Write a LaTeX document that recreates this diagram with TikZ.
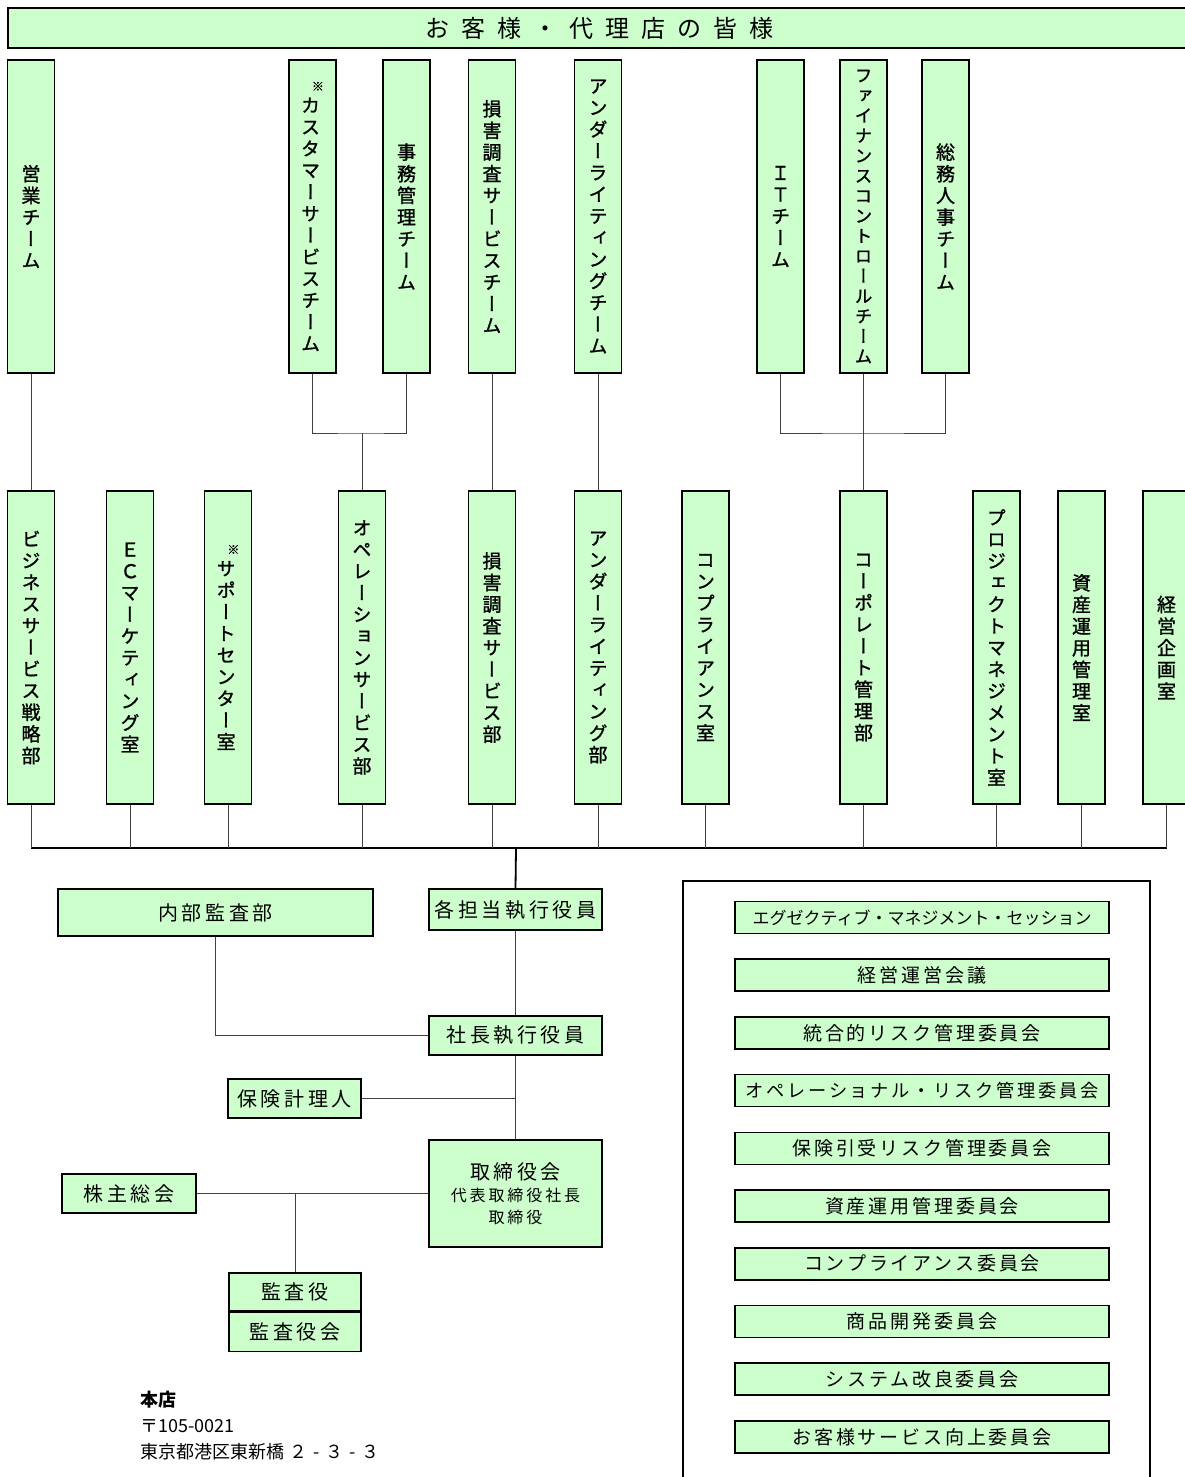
\documentclass[tikz,border=0pt]{standalone}
\usepackage{fontspec}
\setmainfont{Noto Sans CJK JP}
\newfontfamily\tatefont[RawFeature=+vert,FakeBold=1.2]{Noto Sans CJK JP}
\newfontfamily\yokofont[LetterSpace=18]{Noto Sans CJK JP}
\newfontfamily\iinfont[LetterSpace=15]{Noto Sans CJK JP}
\usepackage{tikz}
\usetikzlibrary{positioning,calc}
\definecolor{boxgreen}{HTML}{CCFFCC}

% vertical (tategaki) stack, one character per line
\makeatletter
\newcommand\tate[2][]{\vbox{\tatefont\baselineskip=1.14em\lineskiplimit=-\maxdimen
  \ifx\relax#1\relax\else\hbox to 1.2em{\hfill\fontsize{12}{12}\selectfont #1}\fi
  \tate@#2\@nil}}
\def\tate@#1{\ifx#1\@nil\else\hbox to 1em{\hss#1\hss}\expandafter\tate@\fi}
\newcommand\aki[1]{\aki@#1\@nil}
\def\aki@#1{\ifx#1\@nil\else\hbox{#1}\hskip 12pt\expandafter\aki@\fi}
\makeatother

\tikzset{
  tatebox/.style={draw=black,line width=1.6pt,fill=boxgreen,inner sep=0pt,
    minimum width=47pt,minimum height=313pt,font=\fontsize{19}{22}\selectfont},
  yokobox/.style={draw=black,line width=1.6pt,fill=boxgreen,inner sep=0pt,
    align=center,font=\yokofont\fontsize{20}{24}\selectfont},
  iinkai/.style={yokobox,minimum width=374pt,minimum height=32pt,
    font=\iinfont\fontsize{19}{22}\selectfont},
  link/.style={draw=black!75,line width=1pt},
  busline/.style={draw=black,line width=1.8pt},
  addr/.style={font=\fontsize{18}{26}\selectfont,align=left,inner sep=0pt}
}

\begin{document}
\begin{tikzpicture}[x=1pt,y=-1pt]
  \useasboundingbox (0,0) rectangle (1184,1477);
  \node[yokobox,minimum width=1182pt,minimum height=40pt,
    font=\fontsize{24}{26}\selectfont] (kyaku) at (599,28)
    {\aki{お客様・代理店の皆様}\hskip -12pt};

  % teams
  \node[tatebox] (eigyo) at (31,216.5) {\tate{営業チーム}};
  \node[tatebox] (cs) at (312.5,216.5) {\tate[※]{カスタマーサービスチーム}};
  \node[tatebox] (jimu) at (406.5,216.5) {\tate{事務管理チーム}};
  \node[tatebox] (sonteam) at (492,216.5) {\tate{損害調査サービスチーム}};
  \node[tatebox] (uwteam) at (598,216.5) {\tate{アンダーライティングチーム}};
  \node[tatebox] (itteam) at (780.5,216.5) {\tate{ＩＴチーム}};
  \node[tatebox,font=\fontsize{17.6}{20}\selectfont] (finteam) at (863.5,216.5)
    {\tate{ファイナンスコントロールチーム}};
  \node[tatebox] (somuteam) at (945.5,216.5) {\tate{総務人事チーム}};

  % departments
  \node[tatebox] (biz) at (31,647.5) {\tate{ビジネスサービス戦略部}};
  \node[tatebox] (ec) at (130,647.5) {\tate{ＥＣマーケティング室}};
  \node[tatebox] (support) at (228,647.5) {\tate[※]{サポートセンター室}};
  \node[tatebox] (ops) at (362,647.5) {\tate{オペレーションサービス部}};
  \node[tatebox] (sonbu) at (492,647.5) {\tate{損害調査サービス部}};
  \node[tatebox] (uwbu) at (598,647.5) {\tate{アンダーライティング部}};
  \node[tatebox] (comp) at (705.5,647.5) {\tate{コンプライアンス室}};
  \node[tatebox] (corp) at (863.5,647.5) {\tate{コーポレート管理部}};
  \node[tatebox] (pmo) at (996.5,647.5) {\tate{プロジェクトマネジメント室}};
  \node[tatebox] (shisan) at (1081.5,647.5) {\tate{資産運用管理室}};
  \node[tatebox] (keiei) at (1166.5,647.5) {\tate{経営企画室}};

  \coordinate (opsj) at (362,433);
  \coordinate (corpj) at (863.5,433);
  \draw[link] (cs.south) |- (opsj) -| (jimu.south);
  \draw[link] (opsj) -- (ops.north);
  \draw[link] (itteam.south) |- (corpj) -| (somuteam.south);
  \draw[link] (finteam.south) -- (corp.north);
  \draw[link] (eigyo.south) -- (biz.north);
  \draw[link] (sonteam.south) -- (sonbu.north);
  \draw[link] (uwteam.south) -- (uwbu.north);

  % bus to the executives
  \coordinate (bus) at (516,848);
  \draw[busline] (biz.south |- bus) -- (keiei.south |- bus);
  \foreach \bu in {biz,ec,support,ops,sonbu,uwbu,comp,corp,pmo,shisan,keiei}
    \draw[link] (\bu.south) -- (\bu.south |- bus);

  % management
  \node[yokobox,minimum width=315pt,minimum height=47pt] (naibu) at (215.5,912.5) {内部監査部};
  \node[yokobox,minimum width=173pt,minimum height=41pt] (kakutanto) at (515.5,909.5) {各担当執行役員};
  \node[yokobox,minimum width=173pt,minimum height=39pt] (shacho) at (515.5,1035.5) {社長執行役員};
  \node[yokobox,minimum width=133pt,minimum height=39pt] (hoken) at (294.5,1098.5) {保険計理人};
  \node[yokobox,minimum width=173pt,minimum height=107pt] (torishimari) at (515.5,1193.5)
    {取締役会\\[-2pt]{\fontsize{16}{19}\selectfont 代表取締役社長}\\[-2pt]{\fontsize{16}{19}\selectfont 取締役}};
  \node[yokobox,minimum width=134pt,minimum height=39pt] (kabunushi) at (129,1193.5) {株主総会};
  \node[yokobox,minimum width=132pt,minimum height=38pt] (kansa) at (295,1292) {監査役};
  \node[yokobox,minimum width=132pt,minimum height=39pt,below=0pt of kansa] (kansakai) {監査役会};

  \draw[busline] (bus) -- (kakutanto.north);
  \draw[link] (kakutanto.south) -- (shacho.north);
  \draw[link] (naibu.south) |- (shacho.west);
  \draw[link] (shacho.south) -- (torishimari.north);
  \draw[link] (hoken.east) -- (hoken.east -| shacho.south);
  \draw[link] (kabunushi.east) -- (torishimari.west);
  \draw[link] (kansa.north |- kabunushi.east) -- (kansa.north);

  % address
  \node[addr,anchor=north west] (honten) at (140,1391)
    {\textbf{本店}\\〒105-0021\\東京都港区東新橋\hspace{5pt}２\hspace{6pt}-\hspace{6pt}３\hspace{6pt}-\hspace{6pt}３};

  % committees
  \draw[line width=1.6pt] (683,1480) |- (1150,881) -- (1150,1480);
  \node[iinkai,font=\fontsize{17}{19}\selectfont] (c1) at (922,917.5)
    {エグゼクティブ・マネジメント・セッション};
  \foreach \mei [count=\i from 2] in {経営運営会議,統合的リスク管理委員会,
      {\fontsize{18.2}{22}\selectfont オペレーショナル・リスク管理委員会},
      保険引受リスク管理委員会,資産運用管理委員会,
      コンプライアンス委員会,商品開発委員会,システム改良委員会,お客様サービス向上委員会}
    \node[iinkai] (c\i) at (922,{917.5+57.7*(\i-1)}) {\mei};
\end{tikzpicture}
\end{document}
